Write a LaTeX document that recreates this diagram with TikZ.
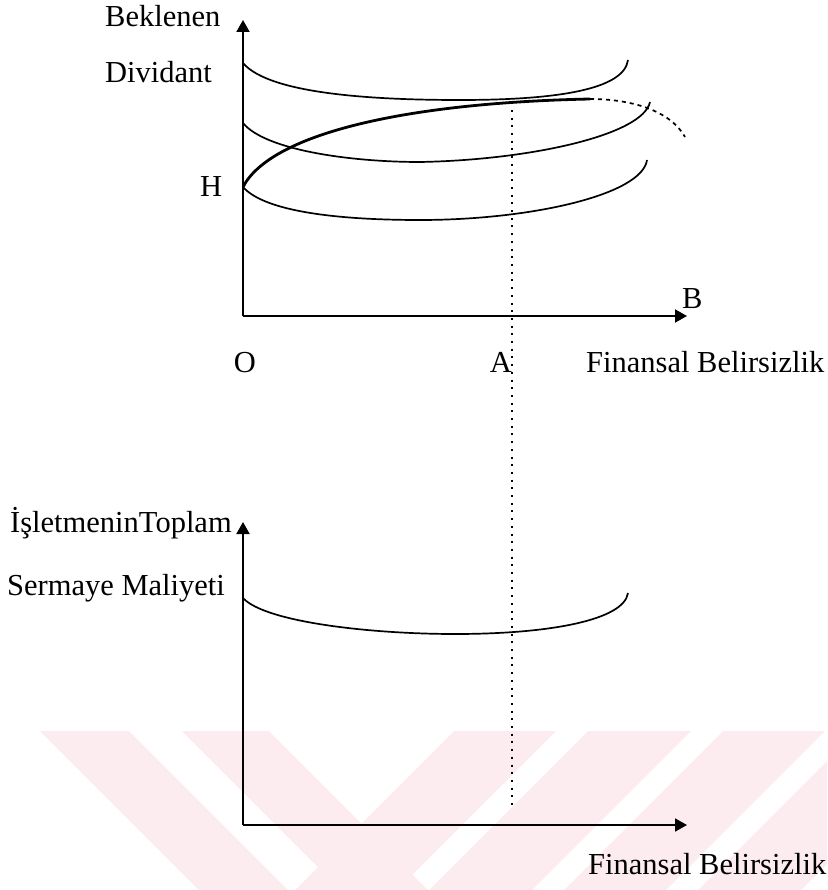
\documentclass[tikz,border=0pt]{standalone}
\usepackage{fontspec}
\setmainfont{Liberation Serif}
\usetikzlibrary{arrows.meta}
\definecolor{wmpink}{RGB}{253,236,239}
\begin{document}
\begin{tikzpicture}[x=1pt,y=-1pt,
  lbl/.style={inner sep=0pt, font=\fontsize{30.5}{36}\selectfont},
  axis/.style={line width=1.9pt, -{Triangle[length=12pt,width=13pt]}},
  curve/.style={line width=1.7pt},
  thickcurve/.style={line width=2.8pt},
  dashcurve/.style={line width=1.7pt, dash pattern=on 4pt off 4pt},
  dotline/.style={line width=1.7pt, dash pattern=on 2pt off 5.7pt},
  wm/.style={fill=wmpink}]
\useasboundingbox (0,0) rectangle (827,890);
% watermark
\begin{scope}
\clip (0,731) rectangle (827,890);
\fill[wm] (40,731) -- (129,731) -- (299,901) -- (210,901) -- cycle;
\fill[wm] (182,731) -- (269,731) -- (439,901) -- (352,901) -- cycle;
\fill[wm] (454,731) -- (556,731) -- (386,901) -- (284,901) -- cycle;
\fill[wm] (588,731) -- (691,731) -- (521,901) -- (418,901) -- cycle;
\fill[wm] (723,731) -- (825,731) -- (655,901) -- (553,901) -- cycle;
\fill[wm] (857,731) -- (960,731) -- (790,901) -- (687,901) -- cycle;
\end{scope}
% top chart coordinates
\coordinate (O1) at (243,316);
\coordinate (Y1) at (243,20);
\coordinate (X1) at (687,316);
\coordinate (c1s) at (243,63);
\coordinate (c1m) at (460,100);
\coordinate (c1e) at (628,60);
\coordinate (c2s) at (243,123);
\coordinate (c2m) at (420,162);
\coordinate (c2e) at (650,102);
\coordinate (Hp) at (243,187);
\coordinate (c3m) at (420,220);
\coordinate (c3e) at (647,160);
\coordinate (pk) at (590,99);
\coordinate (dE) at (685,137);
\coordinate (dT) at (512,110);
\coordinate (dB) at (512,810);
% bottom chart coordinates
\coordinate (O2) at (243,825);
\coordinate (Y2) at (243,522);
\coordinate (X2) at (687,825);
\coordinate (b1s) at (243,598);
\coordinate (b1m) at (455,634);
\coordinate (b1e) at (628,593);
% axes
\draw[axis] (O1) -- (Y1);
\draw[axis] (O1) -- (X1);
\draw[axis] (O2) -- (Y2);
\draw[axis] (O2) -- (X2);
% top curves
\draw[curve] (c1s) .. controls (270,95) and (380,100) .. (c1m)
  .. controls (555,100) and (624,90) .. (c1e);
\draw[curve] (c2s) .. controls (265,150) and (350,162) .. (c2m)
  .. controls (530,160) and (643,135) .. (c2e);
\draw[curve] (Hp) .. controls (265,212) and (340,220) .. (c3m)
  .. controls (530,220) and (642,195) .. (c3e);
\draw[thickcurve] (Hp) .. controls (270,135) and (400,103) .. (pk);
\draw[dashcurve] (pk) .. controls (630,99) and (670,110) .. (dE);
% bottom curve
\draw[curve] (b1s) .. controls (265,622) and (370,634) .. (b1m)
  .. controls (550,634) and (624,620) .. (b1e);
% dotted guide
\draw[dotline] (dT) -- (dB);
% labels
\node[lbl, anchor=base west] (lbek) at (105,27) {Beklenen};
\node[lbl, anchor=base west] (ldiv) at (105,83) {Dividant};
\node[lbl, anchor=base west] (lH) at (200,197) {H};
\node[lbl, anchor=base west] (lB) at (682,308) {B};
\node[lbl, anchor=base] (lO) at (245,372) {O};
\node[lbl, anchor=base] (lA) at (501,372) {A};
\node[lbl, anchor=base west] (lfb1) at (586,372) {Finansal Belirsizlik};
\node[lbl, anchor=base west] (lisl) at (10,532) {İşletmeninToplam};
\node[lbl, anchor=base west] (lsm) at (7,595) {Sermaye Maliyeti};
\node[lbl, anchor=base west] (lfb2) at (588,874) {Finansal Belirsizlik};
\end{tikzpicture}
\end{document}
